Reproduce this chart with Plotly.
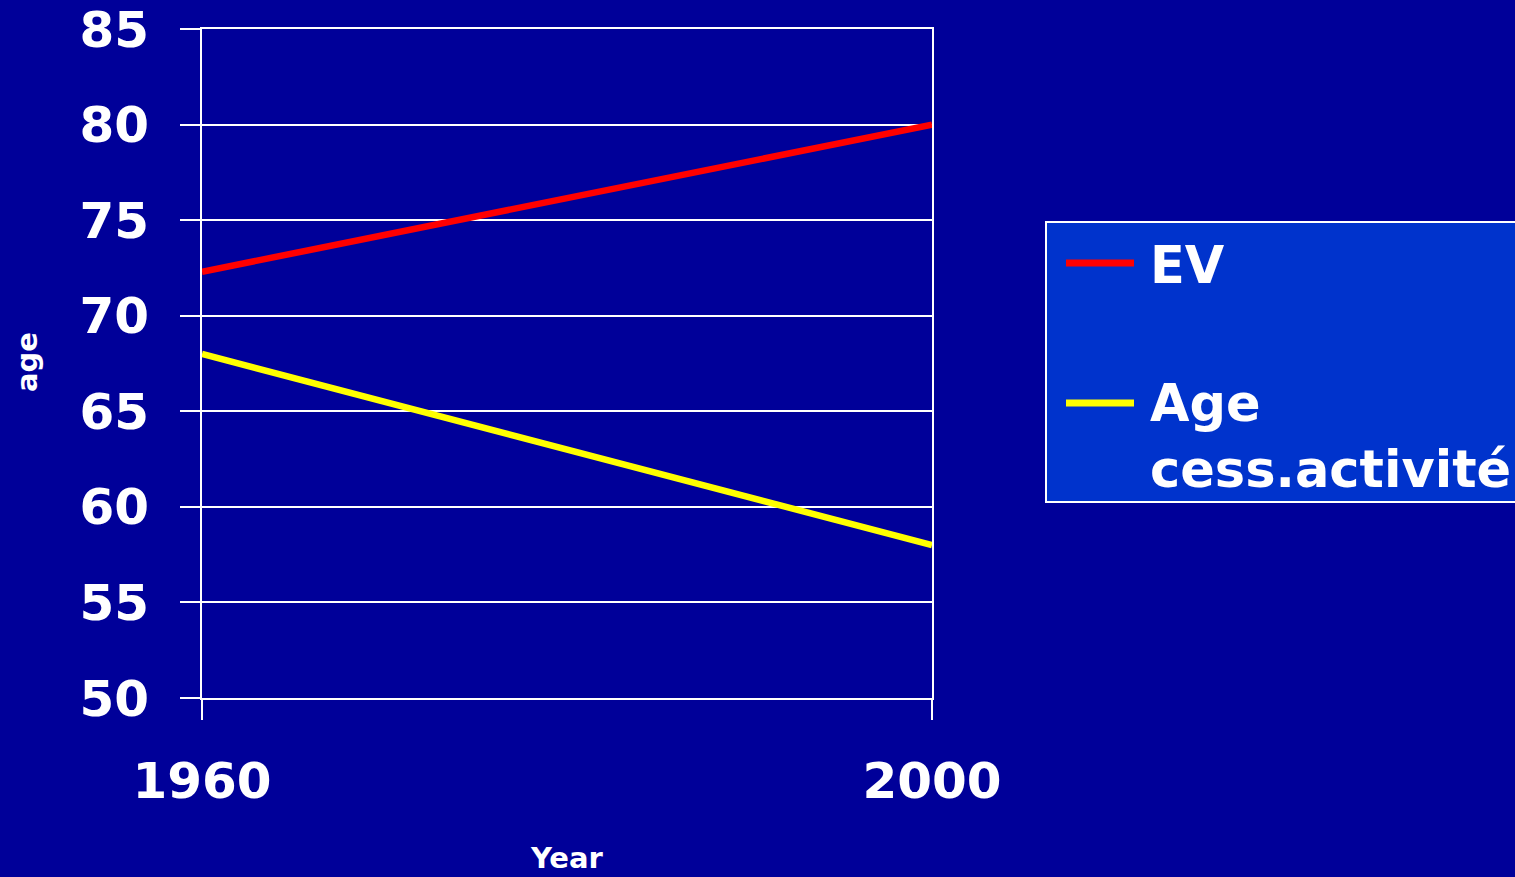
import plotly.graph_objects as go

years = [1960, 2000]
ev = [72.3, 80.0]
age_cess = [68.0, 58.0]
series_names = ["EV", "Age<br>cess.activité"]
series_colors = ["#ff0000", "#ffff00"]
y_ticks = [50, 55, 60, 65, 70, 75, 80, 85]

BG = "#000099"
FONT = "DejaVu Sans"

W, H = 1515, 877
L, R, T, B = 202, 932, 29, 698

def px_x(p):
    return (p - L) / (R - L)

def px_y(p):
    return (B - p) / (B - T)

fig = go.Figure()
for vals, name, col in zip([ev, age_cess], series_names, series_colors):
    fig.add_trace(go.Scatter(x=years, y=vals, mode="lines", name=name,
                             line=dict(color=col, width=6.5), showlegend=False))

fig.update_layout(
    width=W, height=H,
    margin=dict(l=L, r=W - R, t=T, b=H - B, pad=0, autoexpand=False),
    paper_bgcolor=BG, plot_bgcolor=BG,
    font=dict(family=FONT, color="white"),
    xaxis=dict(range=[1960, 2000], tickvals=years, ticks="outside", ticklen=20,
               tickwidth=2, tickcolor="white", showgrid=True, gridcolor="white",
               gridwidth=2, showline=True, mirror=True, linecolor="white", linewidth=2,
               zeroline=False, ticklabelstandoff=18, automargin=False,
               tickfont=dict(family=FONT, size=50, color="white", weight="bold")),
    yaxis=dict(range=[50, 85], tickvals=y_ticks, ticks="outside", ticklen=20,
               tickwidth=2, tickcolor="white", showgrid=True, gridcolor="white",
               gridwidth=2, showline=True, mirror=True, linecolor="white", linewidth=2,
               zeroline=False, ticklabelstandoff=21, automargin=False,
               tickfont=dict(family=FONT, size=50, color="white", weight="bold")),
)

# axis titles
fig.add_annotation(text="<b>Year</b>", xref="paper", yref="paper", x=0.5, y=px_y(858),
                   showarrow=False, font=dict(size=29, color="white", family=FONT),
                   xanchor="center", yanchor="middle")
fig.add_annotation(text="<b>age</b>", xref="paper", yref="paper", x=px_x(27), y=px_y(362),
                   showarrow=False, textangle=-90,
                   font=dict(size=29, color="white", family=FONT),
                   xanchor="center", yanchor="middle")

# legend box
fig.add_shape(type="rect", xref="paper", yref="paper",
              x0=px_x(1046), x1=px_x(1530), y0=px_y(502), y1=px_y(222),
              fillcolor="#0033cc", line=dict(color="white", width=2), layer="below")
legend_y = [263, 403]
text_y = [265, 436]
for name, col, ly, ty in zip(series_names, series_colors, legend_y, text_y):
    fig.add_shape(type="line", xref="paper", yref="paper",
                  x0=px_x(1066), x1=px_x(1134), y0=px_y(ly), y1=px_y(ly),
                  line=dict(color=col, width=7))
    fig.add_annotation(text="<b>" + name + "</b>", xref="paper", yref="paper",
                       x=px_x(1148), y=px_y(ty), showarrow=False, align="left",
                       xanchor="left", yanchor="middle",
                       font=dict(size=51, color="white", family=FONT))

fig.write_html("out.html", config={"displayModeBar": False})
with open("out.html", encoding="utf-8") as f:
    html = f.read()
html = html.replace("<head>", "<head><style>html,body{margin:0;padding:0;overflow:hidden;background:#000099;}</style>", 1)
with open("out.html", "w", encoding="utf-8") as f:
    f.write(html)
